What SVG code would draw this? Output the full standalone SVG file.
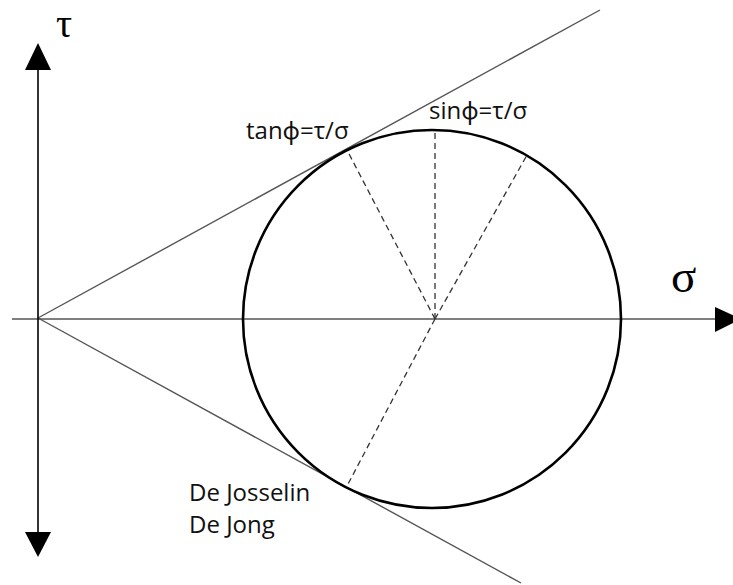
<svg xmlns="http://www.w3.org/2000/svg" width="733" height="585" viewBox="0 0 733 585">
<style>
.thin{stroke:#555;stroke-width:1.4;fill:none}
.axis{stroke:#000;stroke-width:1.6;fill:none}
.dash{stroke:#333;stroke-width:1.3;stroke-dasharray:6,4;fill:none}
.lbl{font-family:"Open Sans","Noto Sans",sans-serif;font-size:24px;fill:#111}
.sym{font-family:"Liberation Serif","DejaVu Serif",serif;fill:#000}
</style>
<rect width="733" height="585" fill="#fff"/>
<g id="connectors">
<line class="thin" x1="38" y1="318" x2="600" y2="10"/>
<line class="thin" x1="38" y1="318" x2="521" y2="583"/>
<line class="thin" x1="12" y1="319" x2="716" y2="319"/>
<line class="axis" x1="38" y1="68" x2="38" y2="534"/>
<line class="dash" x1="435" y1="319" x2="347" y2="150"/>
<line class="dash" x1="435" y1="319" x2="435" y2="130"/>
<line class="dash" x1="435" y1="319" x2="527" y2="155"/>
<line class="dash" x1="435" y1="319" x2="347" y2="486"/>
<polygon points="38,43 51,70 25,70" fill="#000"/>
<polygon points="38,557 51,532 25,532" fill="#000"/>
<polygon points="741,319 715,307 715,332" fill="#000"/>
</g>
<g id="circle">
<circle cx="432" cy="319" r="189" fill="none" stroke="#000" stroke-width="2.6"/>
</g>
<g id="tau"><text class="sym" x="56" y="37" font-size="40">τ</text></g>
<g id="sigma"><text class="sym" x="671" y="292" font-size="47">σ</text></g>
<g id="tan"><text class="lbl" x="246" y="139">tanϕ=τ/σ</text></g>
<g id="sin"><text class="lbl" x="429" y="119">sinϕ=τ/σ</text></g>
<g id="djd"><text class="lbl" x="189" y="501" font-size="25">De Josselin</text><text class="lbl" x="189" y="533" font-size="25">De Jong</text></g>
</svg>
